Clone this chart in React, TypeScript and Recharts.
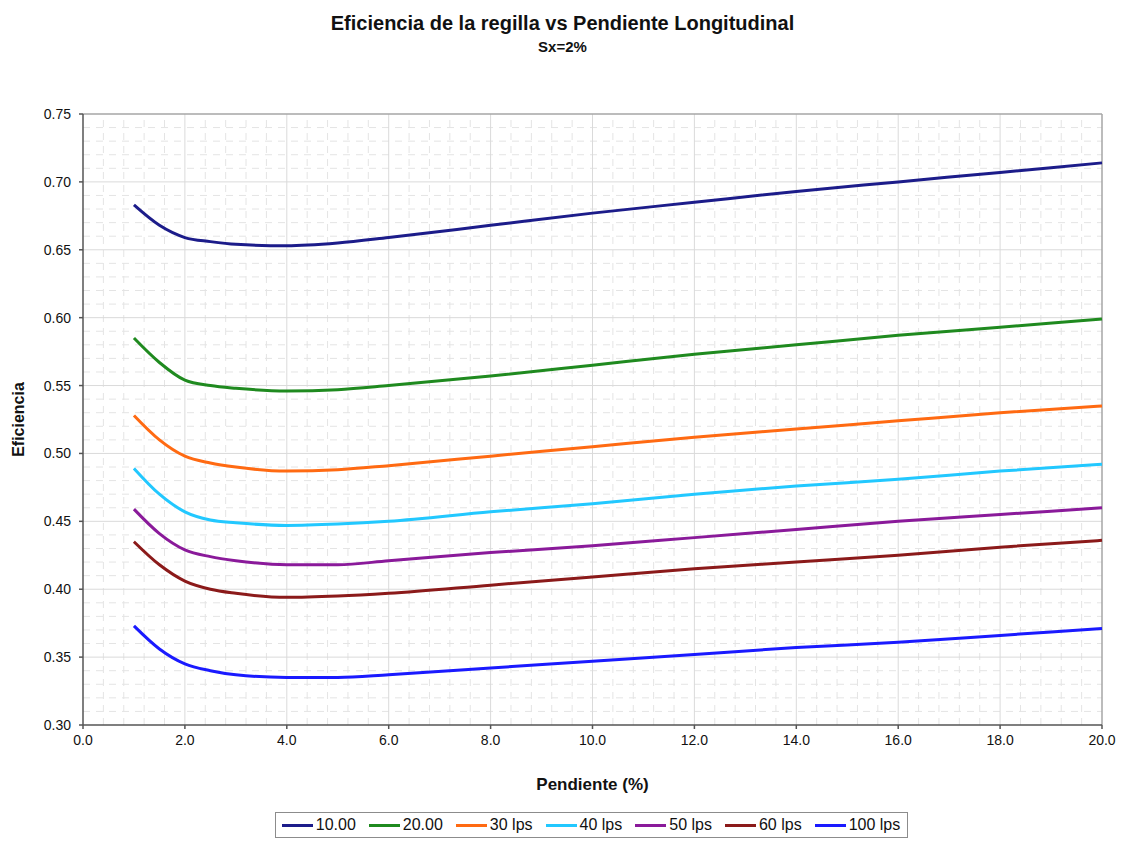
import React from 'react';
import { LineChart, Line, XAxis, YAxis, ReferenceLine, Legend } from 'recharts';

// Pendiente longitudinal (%)
const pendiente = [1, 1.5, 2, 2.5, 3, 4, 5, 6, 8, 10, 12, 14, 16, 18, 20];

// Eficiencia for each caudal
const q10 = [0.683, 0.668, 0.659, 0.656, 0.654, 0.653, 0.655, 0.659, 0.668, 0.677, 0.685, 0.693, 0.700, 0.707, 0.714];
const q20 = [0.585, 0.567, 0.554, 0.550, 0.548, 0.546, 0.547, 0.550, 0.557, 0.565, 0.573, 0.580, 0.587, 0.593, 0.599];
const q30 = [0.528, 0.510, 0.498, 0.493, 0.490, 0.487, 0.488, 0.491, 0.498, 0.505, 0.512, 0.518, 0.524, 0.530, 0.535];
const q40 = [0.489, 0.470, 0.457, 0.451, 0.449, 0.447, 0.448, 0.450, 0.457, 0.463, 0.470, 0.476, 0.481, 0.487, 0.492];
const q50 = [0.459, 0.441, 0.429, 0.424, 0.421, 0.418, 0.418, 0.421, 0.427, 0.432, 0.438, 0.444, 0.450, 0.455, 0.460];
const q60 = [0.435, 0.418, 0.406, 0.400, 0.397, 0.394, 0.395, 0.397, 0.403, 0.409, 0.415, 0.420, 0.425, 0.431, 0.436];
const q100 = [0.373, 0.356, 0.345, 0.340, 0.337, 0.335, 0.335, 0.337, 0.342, 0.347, 0.352, 0.357, 0.361, 0.366, 0.371];

const seriesNames = ['10.00', '20.00', '30 lps', '40 lps', '50 lps', '60 lps', '100 lps'];
const seriesValues = [q10, q20, q30, q40, q50, q60, q100];
const seriesColors = ['#1c1c8a', '#1f8a1f', '#ff6a12', '#22c8ff', '#8a1a9a', '#8b1a1a', '#1a1aff'];

const xTicks = [0, 2, 4, 6, 8, 10, 12, 14, 16, 18, 20];
const yTicks = [0.3, 0.35, 0.4, 0.45, 0.5, 0.55, 0.6, 0.65, 0.7, 0.75];

// minor grid positions (between the major ticks)
const xMinor: number[] = [];
for (let i = 0; i <= 50; i++) if (i % 5 !== 0) xMinor.push(i * 0.4);
const yMinor: number[] = [];
for (let i = 30; i <= 75; i++) if (i % 5 !== 0) yMinor.push(i / 100);

const data = pendiente.map((p, i) => {
    const row: Record<string, number> = { p };
    seriesNames.forEach((name, s) => { row[name] = seriesValues[s][i]; });
    return row;
});

const FONT = '"Liberation Sans", Arial, sans-serif';

const LegendBox = () => (
    <div style={{
        display: 'inline-flex', alignItems: 'center', border: '1.5px solid #8c8c8c',
        padding: '3px 7px 3px 6px', background: '#fff', fontFamily: FONT, fontSize: 16, color: '#111',
    }}>
        {seriesNames.map((name, i) => (
            <span key={name} style={{ display: 'inline-flex', alignItems: 'center', marginRight: i < seriesNames.length - 1 ? 13 : 0 }}>
                <span style={{ display: 'inline-block', width: 31, height: 3, background: seriesColors[i], marginRight: 3 }} />
                {name}
            </span>
        ))}
    </div>
);

export default function App() {
    return (
        <div style={{ position: 'absolute', left: 0, top: 0, width: 1121, height: 842, background: '#fff' }}>
            <div style={{ position: 'absolute', top: 12, left: 0, width: 1125, textAlign: 'center', fontFamily: FONT, fontWeight: 'bold', fontSize: 20, color: '#111' }}>
                Eficiencia de la regilla vs Pendiente Longitudinal
            </div>
            <div style={{ position: 'absolute', top: 38, left: 0, width: 1125, textAlign: 'center', fontFamily: FONT, fontWeight: 'bold', fontSize: 15, color: '#111' }}>
                Sx=2%
            </div>
            <LineChart width={1121} height={842} data={data} margin={{ top: 114, right: 19, left: 0, bottom: 47 }}>
                {xMinor.map(x => (
                    <ReferenceLine key={'xm' + x} x={x} stroke="#e4e4e4" strokeDasharray="7 6" />
                ))}
                {yMinor.map(y => (
                    <ReferenceLine key={'ym' + y} y={y} stroke="#e4e4e4" strokeDasharray="7 6" />
                ))}
                {xTicks.slice(1, -1).map(x => (
                    <ReferenceLine key={'xM' + x} x={x} stroke="#dadada" />
                ))}
                {yTicks.slice(1, -1).map(y => (
                    <ReferenceLine key={'yM' + y} y={y} stroke="#dadada" />
                ))}
                <ReferenceLine y={0.75} stroke="#a6a6a6" strokeWidth={1.5} />
                <ReferenceLine x={20} stroke="#a6a6a6" strokeWidth={1.5} />
                <XAxis
                    dataKey="p"
                    type="number"
                    domain={[0, 20]}
                    ticks={xTicks}
                    tickFormatter={(v) => v.toFixed(1)}
                    height={70}
                    stroke="#555"
                    strokeWidth={1.5}
                    tickSize={4}
                    tickMargin={6}
                    tick={{ fill: '#111', fontSize: 14, fontFamily: FONT }}
                    label={{ value: 'Pendiente (%)', position: 'insideBottom', offset: 5, fill: '#111', fontSize: 17, fontWeight: 'bold', fontFamily: FONT }}
                />
                <YAxis
                    type="number"
                    domain={[0.3, 0.75]}
                    ticks={yTicks}
                    tickFormatter={(v) => v.toFixed(2)}
                    width={83}
                    stroke="#555"
                    strokeWidth={1.5}
                    tickSize={4}
                    tickMargin={8}
                    tick={{ fill: '#111', fontSize: 14, fontFamily: FONT }}
                    label={{
                        content: ({ viewBox }: any) => {
                            const cx = viewBox.x + 18;
                            const cy = viewBox.y + viewBox.height / 2;
                            return (
                                <text x={cx} y={cy} transform={`rotate(-90 ${cx} ${cy})`} textAnchor="middle" dominantBaseline="central"
                                    fill="#111" fontSize={16} fontWeight="bold" fontFamily={FONT}>
                                    Eficiencia
                                </text>
                            );
                        },
                    }}
                />
                {seriesNames.map((name, i) => (
                    <Line
                        key={name}
                        type="monotone"
                        dataKey={name}
                        stroke={seriesColors[i]}
                        strokeWidth={3}
                        dot={false}
                        activeDot={false}
                        isAnimationActive={false}
                    />
                ))}
                <Legend
                    layout="horizontal"
                    verticalAlign="middle"
                    align="center"
                    content={() => <LegendBox />}
                    wrapperStyle={{ top: 812, left: 0, width: 1183, textAlign: 'center' }}
                />
            </LineChart>
        </div>
    );
}
